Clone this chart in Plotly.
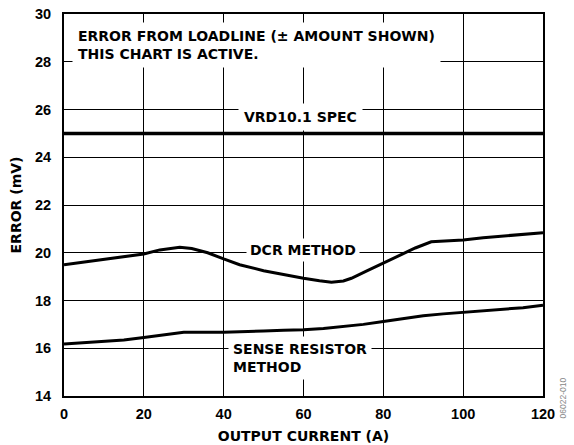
import plotly.graph_objects as go

# Data
current_dcr = [0, 10, 20, 24, 29, 32, 36, 40, 44, 50, 56, 60, 64, 67, 70, 72, 76, 80, 84, 88, 92, 96, 100, 105, 110, 115, 120]
error_dcr = [19.5, 19.72, 19.95, 20.12, 20.23, 20.18, 20.0, 19.74, 19.5, 19.25, 19.04, 18.93, 18.83, 18.77, 18.82, 18.93, 19.25, 19.56, 19.88, 20.2, 20.46, 20.5, 20.53, 20.63, 20.7, 20.76, 20.84]

current_sense = [0, 10, 15, 20, 25, 30, 40, 45, 50, 55, 60, 65, 70, 75, 80, 85, 90, 95, 100, 105, 110, 115, 120]
error_sense = [16.18, 16.3, 16.35, 16.45, 16.56, 16.67, 16.67, 16.68, 16.72, 16.75, 16.77, 16.83, 16.9, 17.0, 17.12, 17.25, 17.36, 17.44, 17.5, 17.57, 17.63, 17.7, 17.8]

spec_current = [0, 120]
spec_error = [25, 25]

x_ticks = [0, 20, 40, 60, 80, 100, 120]
y_ticks = [14, 16, 18, 20, 22, 24, 26, 28, 30]

TXT = "DejaVu Sans"
TICK = "Liberation Sans"

fig = go.Figure()
for xs, ys, w in [(spec_current, spec_error, 3.5), (current_dcr, error_dcr, 3), (current_sense, error_sense, 3)]:
    fig.add_trace(go.Scatter(x=xs, y=ys, mode="lines", line=dict(color="black", width=w),
                             showlegend=False, hoverinfo="skip"))

def ann(text, x, y, xanchor="center", align="center", pad=4):
    fig.add_annotation(x=x, y=y, xref="x", yref="y", text="<b>" + text.replace("<br>", "</b><br><b>") + "</b>",
                       showarrow=False, xanchor=xanchor, yanchor="middle", align=align,
                       bgcolor="white", borderpad=pad,
                       font=dict(family=TXT, size=14, color="black"))

ann("ERROR FROM LOADLINE (± AMOUNT SHOWN)<br>THIS CHART IS ACTIVE.", 2, 28.72, xanchor="left", align="left", pad=5)
ann("VRD10.1 SPEC", 59.2, 25.7, pad=5)
ann("DCR METHOD", 59.8, 20.1, pad=3)
ann("SENSE RESISTOR<br>METHOD", 41, 15.6, xanchor="left", align="left", pad=4)

# small rotated figure code at the bottom-right corner
fig.add_annotation(x=1.056, y=-0.063, xref="paper", yref="paper",
                   text="06022-010", showarrow=False, textangle=-90,
                   font=dict(family="Liberation Sans", size=8.5, color="#888888"))

x_ticktext = ["<b>%d</b>" % v for v in x_ticks]
y_ticktext = ["<b>%d</b>" % v for v in y_ticks]

axis_common = dict(showline=True, mirror=True, linecolor="black", linewidth=2,
                   showgrid=True, gridcolor="black", gridwidth=1, zeroline=False,
                   automargin=False, ticks="", ticklabeloverflow="allow",
                   tickfont=dict(family=TICK, size=14.5, color="black"))

fig.update_xaxes(range=[0, 120], tickvals=x_ticks, ticktext=x_ticktext, ticklabelstandoff=4,
                 title=dict(text="<b>OUTPUT CURRENT (A)</b>", standoff=10,
                            font=dict(family=TXT, size=14, color="black")),
                 **axis_common)
fig.update_yaxes(range=[14, 30], tickvals=y_ticks, ticktext=y_ticktext, ticklabelstandoff=8,
                 title=dict(text="<b>ERROR (mV)</b>", standoff=10,
                            font=dict(family=TXT, size=14, color="black")),
                 **axis_common)

fig.update_layout(width=574, height=445, margin=dict(l=64, r=31, t=14, b=49),
                  plot_bgcolor="white", paper_bgcolor="white", hovermode=False)

# remove the browser's default page margin so the figure fills the window exactly
fig.write_html("out.html", config={"displayModeBar": False, "staticPlot": True},
               post_script="document.body.style.margin='0';")
